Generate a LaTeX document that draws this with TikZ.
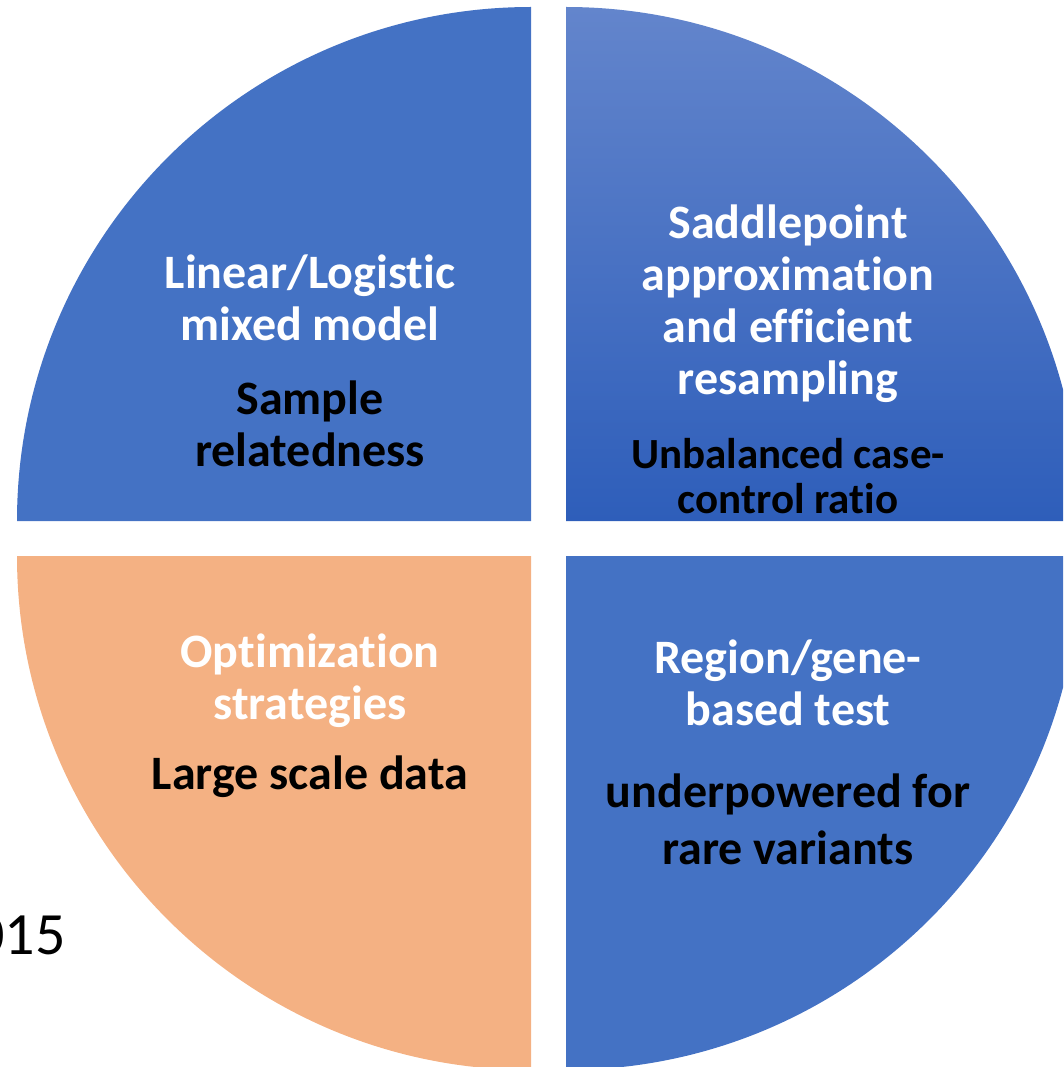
\documentclass[tikz,border=0pt]{standalone}
\usepackage{fontspec}
\setmainfont{Carlito}[RawFeature=-liga]
\definecolor{qblue}{HTML}{4472C4}
\definecolor{qbluetop}{HTML}{6385CC}
\definecolor{qbluebot}{HTML}{2E5EBA}
\definecolor{qorange}{HTML}{F4B183}
\tikzset{
  head/.style={text=white, font=\bfseries\fontsize{48}{52}\selectfont, align=center, inner sep=0pt},
  sub/.style={text=black, font=\bfseries\fontsize{48}{52}\selectfont, align=center, inner sep=0pt},
  subsmall/.style={text=black, font=\bfseries\fontsize{43}{45}\selectfont, align=center, inner sep=0pt},
  subbig/.style={text=black, font=\bfseries\fontsize{48}{57}\selectfont, align=center, inner sep=0pt},
}
\begin{document}
\begin{tikzpicture}[x=1pt,y=-1pt]
\useasboundingbox (0,0) rectangle (1063,1067);
\clip (0,0) rectangle (1063,1067);
% quadrants
\fill[qblue] (531,521) -- (17,521) arc[start angle=180,end angle=270,radius=514] -- cycle;
\shade[top color=qbluetop, bottom color=qbluebot] (566,521) -- (566,7) arc[start angle=270,end angle=360,radius=514] -- cycle;
\fill[qorange] (531,556) -- (17,556) arc[start angle=180,end angle=90,radius=514] -- cycle;
\fill[qblue] (566,556) -- (1080,556) arc[start angle=0,end angle=90,radius=514] -- cycle;
% texts
\node[head] (h1) at (310,298) {Linear/Logistic\\mixed model};
\node[sub]  (s1) at (310,424) {Sample\\relatedness};
\node[head] (h2) at (788,304) {Saddlepoint\\approximation\\and efficient\\resampling};
\node[subsmall] (s2) at (788,476) {Unbalanced case-\\control ratio};
\node[head] (h3) at (310,681) {Optimization\\strategies};
\node[sub]  (s3) at (310,777) {Large scale data};
\node[head] (h4) at (788,683) {Region/gene-\\based test};
\node[subbig] (s4) at (788,819) {underpowered for\\rare variants};
\node[text=black, font=\fontsize{60}{62}\selectfont, anchor=east, inner sep=0pt] (yr) at (66,935) {2015};
\end{tikzpicture}
\end{document}
